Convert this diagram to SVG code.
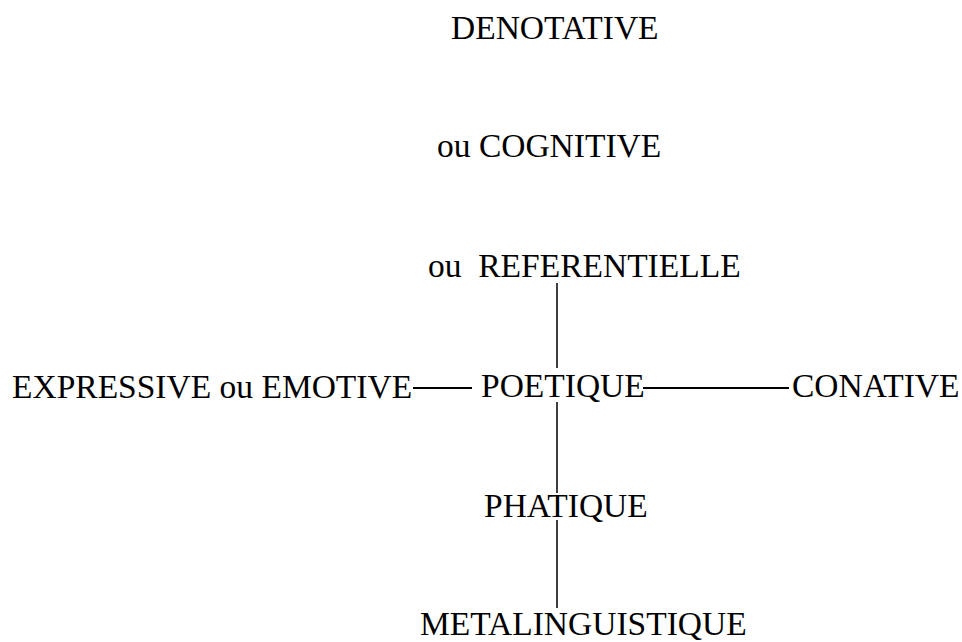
<svg xmlns="http://www.w3.org/2000/svg" width="962" height="642" viewBox="0 0 962 642">
  <style>
    .lbl { font-family: "Liberation Serif", "Times New Roman", serif; font-size: 33.5px; fill: #000; }
    .link { stroke: #000; fill: none; }
    .h { stroke-width: 2; }
    .v { stroke-width: 1.5; }
  </style>
  <rect x="0" y="0" width="962" height="642" fill="#fff"/>

  <!-- connectors -->
  <g id="connectors">
    <line class="link h" x1="413" y1="388" x2="472" y2="388"/>
    <line class="link h" x1="643" y1="388" x2="789" y2="388"/>
    <line class="link v" x1="557" y1="283" x2="557" y2="368"/>
    <line class="link v" x1="557" y1="402" x2="557" y2="493"/>
    <line class="link v" x1="557" y1="520" x2="557" y2="608"/>
  </g>

  <!-- functions of language -->
  <g id="denotative"><text class="lbl" x="451" y="39">DENOTATIVE</text></g>
  <g id="cognitive"><text class="lbl" x="437" y="157">ou COGNITIVE</text></g>
  <g id="referentielle"><text class="lbl" x="428" y="277" xml:space="preserve">ou  REFERENTIELLE</text></g>
  <g id="expressive"><text class="lbl" x="12" y="398">EXPRESSIVE ou EMOTIVE</text></g>
  <g id="poetique"><text class="lbl" x="481" y="397">POETIQUE</text></g>
  <g id="conative"><text class="lbl" x="792" y="397">CONATIVE</text></g>
  <g id="phatique"><text class="lbl" x="484" y="517">PHATIQUE</text></g>
  <g id="metalinguistique"><text class="lbl" x="420" y="635">METALINGUISTIQUE</text></g>
</svg>
